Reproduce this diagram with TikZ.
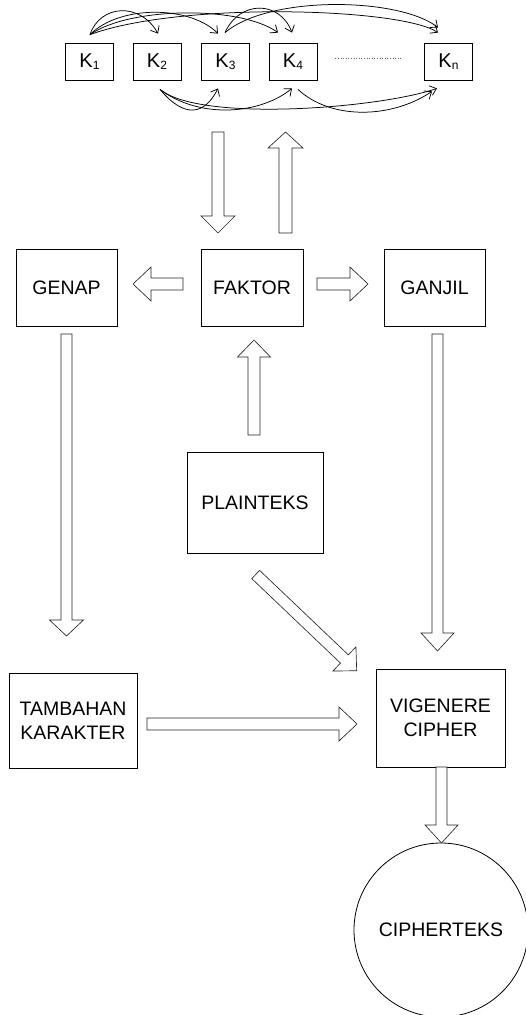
\documentclass[tikz,border=0pt]{standalone}
\usepackage{fontspec}
\setmainfont{Liberation Sans}
\usetikzlibrary{calc,arrows.meta}
\newcommand\blockarr[5]{%
 \draw[blk] let \p1=(#1), \p2=(#2), \n1={atan2(\y2-\y1,\x2-\x1)}, \n2={veclen(\x2-\x1,\y2-\y1)-#5} in
 ($(\p1)+(\n1-90:#3)$) -- ($(\p1)+(\n1:\n2)+(\n1-90:#3)$) -- ($(\p1)+(\n1:\n2)+(\n1-90:#4)$) -- (\p2) -- ($(\p1)+(\n1:\n2)+(\n1+90:#4)$) -- ($(\p1)+(\n1:\n2)+(\n1+90:#3)$) -- ($(\p1)+(\n1+90:#3)$) -- cycle;}
\newcommand\ksub[1]{K\raisebox{-2.5pt}{\fontsize{12}{12}\selectfont #1}}
\tikzset{
 box/.style={draw, line width=0.8pt, inner sep=0pt, align=center, font=\fontsize{19.5}{24}\selectfont},
 kbox/.style={draw, line width=0.8pt, minimum width=48pt, minimum height=37pt, inner sep=0pt, font=\fontsize{20}{24}\selectfont},
 blk/.style={draw=black!85, fill=white, line width=0.65pt, line join=miter},
 karc/.style={line width=0.75pt, -{Straight Barb[length=6pt,width=10pt]}},
}
\begin{document}
\begin{tikzpicture}[x=1pt,y=1pt]
\useasboundingbox (0,0) rectangle (526,-1015);
% K boxes
\node[kbox] (k1) at (89.5,-61.5) {\ksub{1}};
\node[kbox] (k2) at (157,-61.5) {\ksub{2}};
\node[kbox] (k3) at (225.5,-61.5) {\ksub{3}};
\node[kbox] (k4) at (293,-61.5) {\ksub{4}};
\node[kbox] (kn) at (448.5,-61.5) {\ksub{n}};
\draw[black!60, line width=0.6pt, dotted] ($(k4.east)+(18,3.5)$) -- ($(kn.west)+(-22,3.5)$);
% main boxes
\node[box, minimum width=101pt, minimum height=77pt] (genap) at (66.5,-287.5) {GENAP};
\node[box, minimum width=102pt, minimum height=77pt] (faktor) at (252,-287.5) {FAKTOR};
\node[box, minimum width=101pt, minimum height=77pt] (ganjil) at (434.5,-287.5) {GANJIL};
\node[box, minimum width=136pt, minimum height=101pt] (plain) at (255,-502.5) {PLAINTEKS};
\node[box, minimum width=128pt, minimum height=95pt] (tambahan) at (73,-720.5) {TAMBAHAN\\KARAKTER};
\node[box, minimum width=129pt, minimum height=98pt] (vig) at (440.5,-718) {VIGENERE\\CIPHER};
\node[box, circle, minimum size=174pt] (cipher) at (441,-930) {CIPHERTEKS};
% top arcs
\draw[karc] ($(k1.north)+(0.5,8)$) .. controls +(10,30) and +(-18,32) .. ($(k2.north)+(1,9)$);
\draw[karc] ($(k1.north)+(0.5,8)$) .. controls +(30,30) and +(-28,28) .. ($(k3.north)+(-7.5,9)$);
\draw[karc] ($(k1.north)+(0.5,8)$) .. controls +(40,28) and +(-38,27) .. ($(k4.north)+(-15,10)$);
\draw[karc] ($(k1.north)+(0.5,8)$) .. controls +(90,33) and +(-38,25) .. ($(kn.north)+(-10.5,10)$);
\draw[karc] ($(k3.north)+(-0.5,10)$) .. controls +(15,33) and +(-12,32) .. ($(k4.north)+(-1,10)$);
\draw[karc] ($(k3.north)+(-0.5,10)$) .. controls +(45,38) and +(-38,30) .. ($(kn.north)+(-10.5,15)$);
% bottom arcs
\draw[karc] ($(k2.south)+(3,-9)$) .. controls +(25,-30) and +(-13,-26) .. ($(k3.south)+(-7.5,-8)$);
\draw[karc] ($(k2.south)+(3,-9)$) .. controls +(40,-30) and +(-32,-26) .. ($(k4.south)+(-1,-8)$);
\draw[karc] ($(k2.south)+(3,-9)$) .. controls +(40,-33) and +(-58,-20) .. ($(kn.south)+(-11.5,-8)$);
\draw[karc] ($(k4.south)+(5,-9)$) .. controls +(32,-30) and +(-42,-28) .. ($(kn.south)+(-16.5,-11)$);
% block arrows
\coordinate (b1s) at (218,-132); \coordinate (b1e) at (218,-233);
\coordinate (b2s) at (285.5,-233); \coordinate (b2e) at (285.5,-132);
\coordinate (b3s) at (183,-284); \coordinate (b3e) at (133,-284);
\coordinate (b4s) at (317,-284); \coordinate (b4e) at (368,-284);
\coordinate (b5s) at (66.5,-334); \coordinate (b5e) at (66.5,-636);
\coordinate (b6s) at (437.5,-334); \coordinate (b6e) at (437.5,-651);
\coordinate (b7s) at (254,-435); \coordinate (b7e) at (254,-340);
\coordinate (b8s) at (255.7,-574.5); \coordinate (b8e) at (356.7,-670.7);
\coordinate (b9s) at (147,-724); \coordinate (b9e) at (357,-724);
\coordinate (b10s) at (441.5,-767); \coordinate (b10e) at (441.5,-843);
\blockarr{b1s}{b1e}{6}{17}{17}
\blockarr{b2s}{b2e}{6.5}{17.5}{16}
\blockarr{b3s}{b3e}{6}{17}{18}
\blockarr{b4s}{b4e}{6}{17}{18}
\blockarr{b5s}{b5e}{5.5}{17}{16}
\blockarr{b6s}{b6e}{5.5}{16.5}{18}
\blockarr{b7s}{b7e}{6}{16.5}{17}
\blockarr{b8s}{b8e}{5.7}{16.7}{17}
\blockarr{b9s}{b9e}{6}{17}{18}
\blockarr{b10s}{b10e}{5.5}{16.5}{18}
\end{tikzpicture}
\end{document}
